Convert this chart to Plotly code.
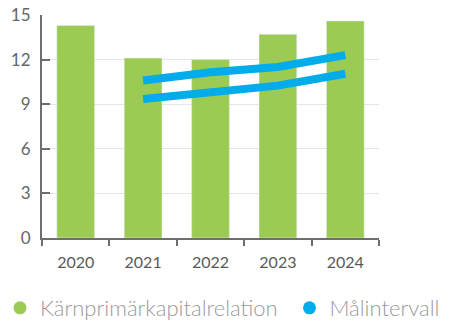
import plotly.graph_objects as go

years = ["2020", "2021", "2022", "2023", "2024"]
cet1 = [14.3, 12.1, 12.0, 13.7, 14.6]
target_years = ["2021", "2022", "2023", "2024"]
target_upper = [10.6, 11.15, 11.5, 12.3]
target_lower = [9.35, 9.85, 10.25, 11.05]
y_ticks = [0, 3, 6, 9, 12, 15]

green = "#9ccb54"
blue = "#00acea"
font_family = "Lato"
W, H = 451, 333

fig = go.Figure()
fig.add_trace(go.Bar(x=years, y=cet1, marker_color=green, showlegend=False,
                     name="Kärnprimärkapitalrelation"))
fig.add_trace(go.Scatter(x=target_years, y=target_upper, mode="lines",
                         line=dict(color=blue, width=8), showlegend=False, name="Målintervall"))
fig.add_trace(go.Scatter(x=target_years, y=target_lower, mode="lines",
                         line=dict(color=blue, width=8), showlegend=False, name="Målintervall"))
# legend entries with circle symbols
fig.add_trace(go.Scatter(x=[None], y=[None], mode="markers", name="Kärnprimärkapitalrelation",
                         marker=dict(color=green, size=13, symbol="circle"), legend="legend"))
fig.add_trace(go.Scatter(x=[None], y=[None], mode="markers", name="Målintervall",
                         marker=dict(color=blue, size=13, symbol="circle"), legend="legend2"))

legend_font = dict(family=font_family, size=22, color="#9a9a9a", weight=300)
legend_common = dict(orientation="h", xref="container", yref="container",
                     xanchor="left", yanchor="middle", y=25 / H,
                     font=legend_font, itemsizing="trace", bgcolor="rgba(0,0,0,0)")

fig.update_layout(
    width=W, height=H,
    margin=dict(l=42, r=72, t=15, b=95, autoexpand=False),
    paper_bgcolor="white", plot_bgcolor="white",
    bargap=0.44,
    font=dict(family=font_family, color="#666666", size=16),
    legend=dict(x=-6.5 / W, **legend_common),
    legend2=dict(x=289.5 / W, **legend_common),
)
fig.update_xaxes(
    type="category", categoryorder="array", categoryarray=years,
    showline=True, linecolor="#6e6e6e", linewidth=2,
    ticks="outside", ticklen=6, tickcolor="#6e6e6e", tickwidth=2,
    tickson="boundaries", showgrid=False,
    tickfont=dict(family=font_family, size=16, color="#5a5a5a"),
    ticklabelstandoff=9,
)
fig.update_yaxes(
    range=[0, 15], tickvals=y_ticks,
    showline=True, linecolor="#6e6e6e", linewidth=2,
    ticks="inside", ticklen=8, tickcolor="#6e6e6e", tickwidth=2,
    showgrid=True, gridcolor="#e6e6e6", gridwidth=1,
    zeroline=False,
    tickfont=dict(family=font_family, size=17, color="#666666"),
    ticklabelstandoff=6,
)

fig.write_html("out.html")
